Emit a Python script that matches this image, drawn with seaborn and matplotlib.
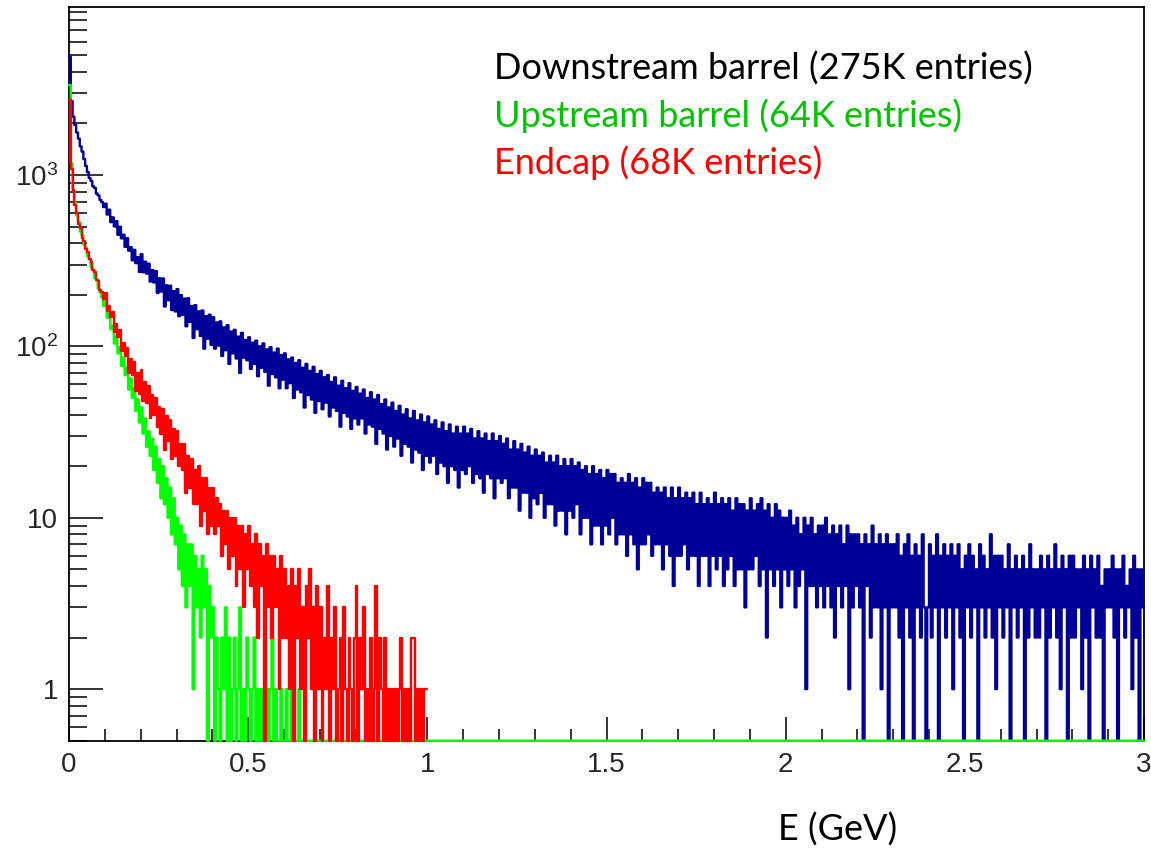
import numpy as np
import pandas as pd
import matplotlib
matplotlib.use("Agg")
import matplotlib.pyplot as plt
import seaborn as sns
from matplotlib.ticker import FixedLocator, FixedFormatter, NullFormatter

# ---------------------------------------------------------------- data
BIN_WIDTH = 0.005          # GeV per bin
Y_FLOOR = 0.5              # lower edge of the log axis; empty bins sit here
Y_TOP = 9600

# Downstream barrel, 0-3 GeV (600 bins)
downstream_counts = [
    4900, 2700, 2190, 1960, 1770, 1630, 1470, 1370, 1240, 1130, 1040, 960, 925, 860, 840, 780, 760, 715, 695, 650,
    680, 588, 628, 531, 566, 501, 538, 448, 499, 427, 449, 381, 428, 362, 379, 318, 366, 306, 332, 272,
    345, 271, 312, 266, 304, 239, 279, 236, 275, 205, 250, 209, 249, 171, 227, 186, 226, 163, 210, 160,
    216, 150, 199, 153, 190, 131, 191, 139, 172, 112, 174, 126, 160, 115, 162, 97, 150, 111, 153, 102,
    148, 97, 138, 101, 140, 88, 129, 95, 133, 79, 122, 91, 125, 85, 114, 70, 120, 86, 109, 83,
    113, 74, 105, 79, 108, 67, 100, 75, 104, 71, 96, 59, 99, 69, 92, 66, 97, 57, 89, 64,
    91, 57, 84, 61, 86, 50, 80, 56, 83, 54, 75, 44, 79, 52, 72, 49, 76, 41, 69, 48,
    72, 43, 66, 47, 68, 39, 62, 44, 66, 42, 59, 34, 63, 41, 57, 39, 61, 33, 55, 38,
    58, 35, 53, 38, 56, 31, 50, 35, 54, 34, 49, 27, 52, 33, 46, 31, 49, 25, 44, 30,
    47, 26, 42, 29, 45, 23, 40, 27, 43, 26, 38, 21, 42, 25, 37, 24, 40, 19, 36, 23,
    39, 21, 35, 23, 37, 18, 33, 21, 36, 20, 32, 16, 35, 20, 31, 19, 34, 15, 31, 19,
    34, 18, 31, 20, 33, 16, 29, 18, 32, 17, 29, 14, 31, 18, 28, 17, 31, 13, 28, 17,
    30, 16, 27, 17, 29, 13, 25, 15, 28, 15, 25, 11, 27, 14, 24, 14, 26, 10, 23, 13,
    25, 12, 23, 14, 24, 10, 21, 12, 23, 12, 21, 9, 23, 11, 20, 11, 22, 8, 20, 11,
    22, 10, 20, 12, 21, 8, 19, 10, 20, 10, 18, 7, 20, 9, 18, 9, 19, 7, 17, 9,
    19, 8, 18, 10, 18, 7, 16, 8, 17, 8, 16, 6, 18, 8, 16, 7, 17, 5, 15, 7,
    17, 7, 16, 8, 16, 6, 14, 7, 15, 7, 14, 5, 15, 7, 13, 6, 15, 4, 13, 6,
    15, 6, 13, 7, 14, 5, 13, 6, 14, 6, 12, 4, 14, 6, 12, 6, 13, 4, 12, 6,
    14, 5, 12, 6, 13, 4, 12, 5, 13, 6, 11, 4, 13, 5, 12, 5, 12, 3, 11, 5,
    13, 5, 11, 6, 12, 4, 13, 5, 11, 2, 12, 5, 10, 4, 12, 5, 11, 3, 10, 5,
    10, 4, 11, 5, 9, 3, 10, 4, 8, 5, 10, 1, 9, 4, 10, 4, 8, 3, 9, 4,
    9, 3, 10, 4, 8, 3, 9, 2, 8, 4, 9, 3, 7, 4, 9, 1, 8, 3, 8, 4,
    8, 3, 7, 0, 8, 4, 7, 2, 9, 3, 7, 3, 8, 1, 7, 3, 8, 0, 7, 3,
    7, 3, 8, 2, 6, 0, 7, 3, 8, 2, 6, 0, 7, 3, 6, 2, 8, 3, 0, 3,
    7, 2, 6, 3, 8, 0, 6, 3, 7, 2, 6, 3, 7, 1, 6, 3, 7, 2, 5, 0,
    6, 3, 7, 2, 6, 3, 5, 0, 7, 3, 6, 2, 5, 3, 8, 2, 6, 1, 6, 3,
    6, 2, 5, 3, 7, 0, 5, 3, 6, 2, 5, 3, 6, 0, 5, 2, 7, 3, 5, 2,
    5, 2, 6, 3, 5, 0, 6, 2, 5, 3, 7, 2, 5, 1, 6, 3, 5, 0, 6, 2,
    6, 2, 5, 3, 5, 1, 6, 2, 5, 0, 6, 3, 5, 2, 6, 2, 4, 0, 5, 3,
    5, 3, 6, 2, 5, 0, 5, 3, 6, 2, 4, 3, 5, 1, 6, 2, 5, 0, 5, 3,
]

# Upstream barrel, 0-3 GeV (600 bins, empty above 0.65 GeV)
upstream_counts = [
    3350, 1170, 815, 690, 580, 532, 468, 445, 392, 376, 336, 322, 290, 281, 251, 244, 218, 207, 193, 172,
    183, 147, 156, 126, 132, 104, 114, 91, 99, 77, 86, 68, 75, 56, 65, 50, 57, 42, 49, 36,
    44, 31, 38, 26, 32, 23, 29, 19, 26, 16, 22, 13, 20, 12, 17, 10, 15, 8, 13, 7,
    10, 5, 9, 4, 8, 3, 7, 4, 7, 1, 6, 3, 5, 2, 6, 3, 5, 0, 4, 2,
    3, 0, 2, 1, 0, 2, 1, 3, 0, 2, 0, 1, 2, 0, 1, 3, 0, 1, 0, 2,
    1, 0, 1, 2, 0, 1, 0, 1, 0, 0, 1, 0, 1, 2, 0, 1, 0, 0, 1, 0,
    0, 1, 0, 0, 1, 0, 0, 0, 1, 0,
] + [0] * 470

# Endcap, 0-1 GeV (200 bins)
endcap_counts = [
    2750, 1080, 820, 670, 600, 520, 490, 430, 412, 368, 356, 322, 310, 279, 272, 244, 240, 212, 208, 188,
    206, 160, 171, 148, 158, 122, 135, 114, 125, 94, 105, 88, 98, 70, 84, 68, 81, 55, 70, 53,
    73, 48, 62, 47, 59, 38, 52, 40, 50, 34, 44, 31, 43, 25, 39, 28, 37, 22, 33, 23,
    32, 20, 27, 19, 27, 14, 23, 15, 22, 12, 19, 12, 20, 9, 17, 11, 17, 8, 15, 9,
    15, 8, 13, 9, 12, 6, 11, 7, 11, 5, 10, 6, 10, 4, 9, 5, 9, 3, 8, 5,
    9, 4, 7, 3, 8, 2, 7, 4, 6, 0, 7, 3, 6, 2, 6, 3, 5, 1, 6, 2,
    5, 2, 4, 1, 5, 0, 4, 2, 5, 1, 3, 0, 4, 2, 5, 1, 3, 0, 4, 1,
    3, 0, 2, 1, 4, 0, 2, 1, 3, 0, 1, 2, 0, 3, 1, 0, 2, 1, 0, 2,
    4, 0, 2, 1, 3, 0, 1, 0, 2, 0, 1, 4, 0, 2, 1, 0, 2, 0, 1, 0,
    1, 0, 1, 0, 1, 2, 0, 1, 0, 1, 0, 2, 2, 0, 1, 0, 1, 0, 1, 1,
]

series_labels = [
    "Downstream barrel (275K entries)",
    "Upstream barrel (64K entries)",
    "Endcap (68K entries)",
]
line_colors = ["#000099", "#00ff00", "#ff0000"]
label_colors = ["#000000", "#00c400", "#ff0000"]

x_tick_values = [0, 0.5, 1, 1.5, 2, 2.5, 3]
x_tick_labels = ["0", "0.5", "1", "1.5", "2", "2.5", "3"]
y_tick_values = [1, 10, 100, 1000]
y_tick_labels = ["1", "10", r"$\mathregular{10^{2}}$", r"$\mathregular{10^{3}}$"]
x_title = "E (GeV)"

# ---------------------------------------------------------------- style
sns.set_style("ticks")
plt.rcParams["font.family"] = ["Liberation Sans", "DejaVu Sans"]
plt.rcParams["mathtext.fontset"] = "custom"
plt.rcParams["mathtext.rm"] = "Liberation Sans"

W, H, DPI = 1151, 850, 100
fig = plt.figure(figsize=(W / DPI, H / DPI), dpi=DPI)
fig.patch.set_facecolor("white")
ax = fig.add_axes([69 / W, 1 - 740.7 / H, (1144 - 69) / W, (740.7 - 6.7) / H])
ax.set_facecolor("white")


def draw_hist(counts, color):
    counts = np.asarray(counts, dtype=float)
    n = len(counts)
    centers = (np.arange(n) + 0.5) * BIN_WIDTH
    # empty bins are drawn on the floor of the log axis
    df = pd.DataFrame({"energy": centers, "shown": np.maximum(counts, Y_FLOOR)})
    sns.histplot(data=df, x="energy", weights="shown", bins=n,
                 binrange=(0, n * BIN_WIDTH), element="step",
                 fill=False, color=color, linewidth=1.7, ax=ax)
    line = ax.lines[-1]
    line.set_clip_on(False)
    line.set_zorder(3)


for counts, color in zip([downstream_counts, upstream_counts, endcap_counts], line_colors):
    draw_hist(counts, color)

ax.set_yscale("log")
ax.set_xlim(0, 3)
ax.set_ylim(Y_FLOOR, Y_TOP)
ax.set_xlabel("")
ax.set_ylabel("")

# axes frame and ticks
for sp in ax.spines.values():
    sp.set_visible(True)
    sp.set_color("black")
    sp.set_linewidth(1.3)
    sp.set_zorder(2)

ax.xaxis.set_major_locator(FixedLocator(x_tick_values))
ax.xaxis.set_major_formatter(FixedFormatter(x_tick_labels))
ax.xaxis.set_minor_locator(FixedLocator([i / 10 for i in range(31)]))
ax.yaxis.set_major_locator(FixedLocator(y_tick_values))
ax.yaxis.set_major_formatter(FixedFormatter(y_tick_labels))
y_minor = [m * 10.0 ** d for d in range(-1, 4) for m in range(2, 10)]
ax.yaxis.set_minor_locator(FixedLocator([v for v in y_minor if Y_FLOOR <= v <= Y_TOP]))
ax.yaxis.set_minor_formatter(NullFormatter())

ax.tick_params(axis="both", which="both", direction="in", color="black",
               top=False, right=False, labelsize=20, width=1.1, pad=8)
ax.tick_params(axis="x", which="major", length=17)
ax.tick_params(axis="x", which="minor", length=8.5)
ax.tick_params(axis="y", which="major", length=24.5)
ax.tick_params(axis="y", which="minor", length=13)

# ---------------------------------------------------------------- annotations
text_font = ["Lato", "DejaVu Sans"]
labels = []
for i, (txt, col) in enumerate(zip(series_labels, label_colors)):
    labels.append(fig.text(494 / W, 1 - (80 + 47 * i) / H, txt, color=col,
                           fontsize=26, family=text_font, ha="left", va="baseline"))
title = fig.text(778 / W, 1 - 841 / H, x_title, color="black",
                 fontsize=26, family=text_font, ha="left", va="baseline")

fig.canvas.draw()
renderer = fig.canvas.get_renderer()
width0 = labels[0].get_window_extent(renderer).width
size = 26 * (1033 - 494) / width0
for t in labels + [title]:
    t.set_fontsize(size)

fig.savefig("out.png", dpi=DPI, facecolor="white")
